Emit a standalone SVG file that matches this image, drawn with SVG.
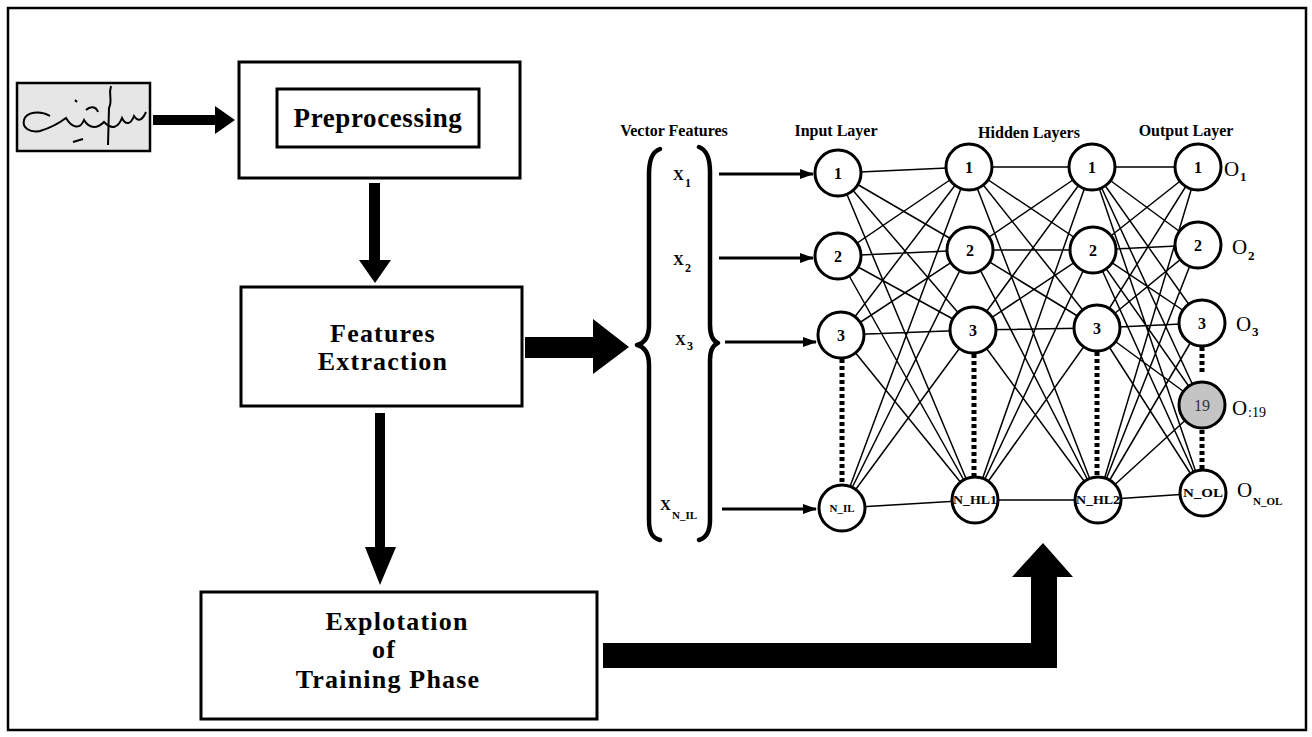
<svg xmlns="http://www.w3.org/2000/svg" width="1312" height="737" viewBox="0 0 1312 737">
<defs>
<style>
.box{fill:#fff;stroke:#000;stroke-width:3}
.big{font-family:"Liberation Serif","Times New Roman",serif;font-weight:bold;font-size:26px;letter-spacing:1.2px;fill:#000;text-anchor:middle}
.lbl{font-family:"Liberation Serif","Times New Roman",serif;font-weight:bold;font-size:16px;fill:#000;text-anchor:middle}
.nt{font-family:"Liberation Serif","Times New Roman",serif;font-weight:bold;font-size:16px;fill:#000;text-anchor:middle}
.ns{font-family:"Liberation Serif","Times New Roman",serif;font-weight:bold;font-size:12px;fill:#000;text-anchor:middle}
.xt{font-family:"Liberation Serif","Times New Roman",serif;font-weight:bold;font-size:15px;fill:#000}
.xs{font-family:"Liberation Serif","Times New Roman",serif;font-weight:bold;font-size:12px;fill:#000}
.ot{font-family:"Liberation Serif","Times New Roman",serif;font-size:21px;fill:#000}
.os{font-family:"Liberation Serif","Times New Roman",serif;font-weight:bold;font-size:13px;fill:#000}
.node{fill:#fff;stroke:#000;stroke-width:3}
.edge{stroke:#000;stroke-width:1.5;fill:none}
.dots{stroke:#000;stroke-width:5;stroke-dasharray:4 3;fill:none}
.brace{stroke:#000;stroke-width:4.5;fill:none;stroke-linecap:round;stroke-linejoin:round}
.inarr{stroke:#000;stroke-width:3;fill:none}
</style>
<marker id="ah" markerUnits="userSpaceOnUse" markerWidth="14" markerHeight="10" refX="13" refY="5" orient="auto">
<path d="M0,0 L14,5 L0,10 Z" fill="#000"/>
</marker>
</defs>
<rect x="8" y="8" width="1298" height="722" fill="#fff" stroke="#000" stroke-width="2.5"/>

<g id="signature">
<rect x="17" y="83" width="133" height="68" fill="#e6e6e6" stroke="#000" stroke-width="2.5"/>
<path d="M 146 112 C 142 121 138 122 134 116 C 131 124 126 126 122 118 C 118 128 112 130 104 122 C 98 128 90 130 84 120 C 80 130 72 128 66 118 C 58 124 50 128 40 131 C 30 133 22 128 24 120 C 26 112 40 110 50 116" fill="none" stroke="#000" stroke-width="2"/>
<path d="M 111 86 C 108 95 113 100 109 108 L 108 145" fill="none" stroke="#000" stroke-width="2"/>
<path d="M 73 142 L 83 139 M 75 100 L 77 102 M 86 110 C 90 106 96 106 98 112" fill="none" stroke="#000" stroke-width="2"/>
</g>

<g id="preprocessing">
<rect class="box" x="239" y="62" width="281" height="116"/>
<rect class="box" x="277" y="89" width="202" height="58"/>
<text class="big" x="378" y="127" style="font-size:27px;letter-spacing:0.6px">Preprocessing</text>
</g>

<g id="features-extraction">
<rect class="box" x="241" y="287" width="281" height="119"/>
<text class="big" x="383" y="342">Features</text>
<text class="big" x="383" y="370">Extraction</text>
</g>

<g id="training-phase">
<rect class="box" x="201" y="592" width="396" height="127"/>
<text class="big" x="397" y="630">Explotation</text>
<text class="big" x="384" y="658">of</text>
<text class="big" x="388" y="688">Training Phase</text>
</g>

<g id="vector-features">
<text class="lbl" x="674" y="136">Vector Features</text>
<path class="brace" d="M 660 149 C 652 152 649 160 649 175 L 649 325 C 649 337 645 343 637 345 C 645 347 649 353 649 365 L 649 520 C 649 532 652 538 660 540"/>
<path class="brace" d="M 699 147 C 707 150 710 158 710 172 L 710 325 C 710 336 713 341 718 343 C 713 345 710 350 710 360 L 710 520 C 710 532 706 538 699 540"/>
<text class="xt" x="673" y="180">X</text><text class="xs" x="685" y="187">1</text>
<text class="xt" x="673" y="265">X</text><text class="xs" x="685" y="272">2</text>
<text class="xt" x="675" y="345">X</text><text class="xs" x="687" y="350">3</text>
<text class="xt" x="660" y="510">X</text><text class="xs" x="672" y="519" style="font-size:11px">N_IL</text>
</g>

<g id="connectors">
<polygon points="153,115 215,115 215,106 235,120 215,134 215,125 153,125" fill="#000"/>
<polygon points="369,183 380,183 380,260 391,260 375,283 359,260 369,260" fill="#000"/>
<polygon points="375,413 385,413 385,547 396,547 380,585 365,547 375,547" fill="#000"/>
<polygon points="525,337 593,337 593,319 629,347 593,374 593,358 525,358" fill="#000"/>
<polygon points="603,643 1031,643 1031,577 1012,577 1043,543 1073,577 1057,577 1057,668 603,668" fill="#000"/>
<line class="inarr" x1="719" y1="174" x2="813" y2="174" marker-end="url(#ah)"/>
<line class="inarr" x1="719" y1="258" x2="813" y2="258" marker-end="url(#ah)"/>
<line class="inarr" x1="725" y1="342" x2="816" y2="342" marker-end="url(#ah)"/>
<line class="inarr" x1="722" y1="509" x2="816" y2="509" marker-end="url(#ah)"/>
<!-- input to hidden 1 -->
<path class="edge" d="M838,173 L969,167 M838,173 L970,250 M838,173 L973,330 M838,173 L975,500
M838,256 L969,167 M838,256 L970,250 M838,256 L973,330 M838,256 L975,500
M841,335 L969,167 M841,335 L970,250 M841,335 L973,330 M841,335 L975,500
M842,508 L969,167 M842,508 L970,250 M842,508 L973,330 M842,508 L975,500"/>
<!-- hidden 1 to hidden 2 -->
<path class="edge" d="M969,167 L1092,167 M969,167 L1093,250 M969,167 L1097,328 M969,167 L1098,500
M970,250 L1092,167 M970,250 L1093,250 M970,250 L1097,328 M970,250 L1098,500
M973,330 L1092,167 M973,330 L1093,250 M973,330 L1097,328 M973,330 L1098,500
M975,500 L1092,167 M975,500 L1093,250 M975,500 L1097,328 M975,500 L1098,500"/>
<!-- hidden 2 to output -->
<path class="edge" d="M1092,167 L1198,167 M1092,167 L1198,245 M1092,167 L1202,323 M1092,167 L1202,405 M1092,167 L1203,493
M1093,250 L1198,167 M1093,250 L1198,245 M1093,250 L1202,323 M1093,250 L1202,405 M1093,250 L1203,493
M1097,328 L1198,167 M1097,328 L1198,245 M1097,328 L1202,323 M1097,328 L1202,405 M1097,328 L1203,493
M1098,500 L1198,167 M1098,500 L1198,245 M1098,500 L1202,323 M1098,500 L1202,405 M1098,500 L1203,493"/>
<line class="dots" x1="842" y1="359" x2="842" y2="485"/>
<line class="dots" x1="974" y1="354" x2="974" y2="477"/>
<line class="dots" x1="1097" y1="352" x2="1097" y2="477"/>
<line class="dots" x1="1202" y1="347" x2="1202" y2="372"/>
<line class="dots" x1="1202" y1="430" x2="1202" y2="470"/>
</g>

<g id="layer-labels">
<text class="lbl" x="836" y="136">Input Layer</text>
<text class="lbl" x="1029" y="138">Hidden Layers</text>
<text class="lbl" x="1186" y="136">Output Layer</text>
</g>

<g id="input-layer">
<circle class="node" cx="838" cy="173" r="23"/><text class="nt" x="838" y="179">1</text>
<circle class="node" cx="838" cy="256" r="23"/><text class="nt" x="838" y="262">2</text>
<circle class="node" cx="841" cy="335" r="23"/><text class="nt" x="841" y="341">3</text>
<circle class="node" cx="842" cy="508" r="23"/><text class="ns" x="842" y="512" style="font-size:11px">N_IL</text>
</g>

<g id="hidden-layer-1">
<circle class="node" cx="969" cy="167" r="23"/><text class="nt" x="969" y="173">1</text>
<circle class="node" cx="970" cy="250" r="23"/><text class="nt" x="970" y="256">2</text>
<circle class="node" cx="973" cy="330" r="23"/><text class="nt" x="973" y="336">3</text>
<circle class="node" cx="975" cy="500" r="23"/><text class="ns" x="975" y="504" textLength="44" lengthAdjust="spacingAndGlyphs">N_HL1</text>
</g>

<g id="hidden-layer-2">
<circle class="node" cx="1092" cy="167" r="23"/><text class="nt" x="1092" y="173">1</text>
<circle class="node" cx="1093" cy="250" r="23"/><text class="nt" x="1093" y="256">2</text>
<circle class="node" cx="1097" cy="328" r="23"/><text class="nt" x="1097" y="334">3</text>
<circle class="node" cx="1098" cy="500" r="23"/><text class="ns" x="1098" y="504" textLength="44" lengthAdjust="spacingAndGlyphs">N_HL2</text>
</g>

<g id="output-layer">
<circle class="node" cx="1198" cy="167" r="23"/><text class="nt" x="1198" y="173">1</text>
<circle class="node" cx="1198" cy="245" r="23"/><text class="nt" x="1198" y="251">2</text>
<circle class="node" cx="1202" cy="323" r="23"/><text class="nt" x="1202" y="329">3</text>
<circle class="node" cx="1202" cy="405" r="23" style="fill:#c4c4c4"/><text class="nt" x="1202" y="411" style="font-weight:normal;fill:#333">19</text>
<circle class="node" cx="1203" cy="493" r="23"/><text class="ns" x="1203" y="497" textLength="40" lengthAdjust="spacingAndGlyphs">N_OL</text>
<text class="ot" x="1224" y="176">O</text><text class="os" x="1240" y="181">1</text>
<text class="ot" x="1232" y="254">O</text><text class="os" x="1248" y="260">2</text>
<text class="ot" x="1236" y="331">O</text><text class="os" x="1252" y="336">3</text>
<text class="ot" x="1232" y="415">O</text><text class="os" x="1248" y="417" style="font-weight:normal;font-size:14px">:19</text>
<text class="ot" x="1237" y="497">O</text><text class="os" x="1253" y="505" style="font-size:11px">N_OL</text>
</g>
</svg>
